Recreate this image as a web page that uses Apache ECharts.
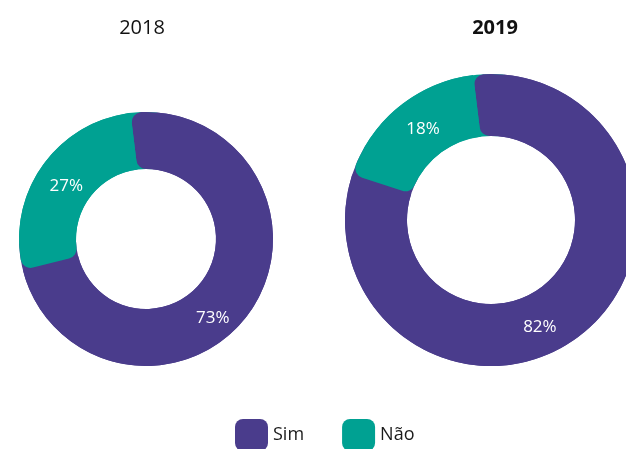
<!DOCTYPE html>
<html>
<head>
<meta charset="utf-8">
<script src="https://cdn.jsdelivr.net/npm/echarts@6/dist/echarts.min.js"></script>
<style>
  html, body { margin: 0; padding: 0; background: #fff; }
  #chart { width: 626px; height: 449px; }
</style>
</head>
<body>
<div id="chart"></div>
<script>
// Answer categories and yearly shares (%)
const categories = ['Sim', 'Não'];
const years = ['2018', '2019'];
const values2018 = [73, 27];
const values2019 = [82, 18];

// Label nudges (px) per slice, so the percentages sit where they read best
const labelOffsets2018 = [[-17, 22], [4, 5]];
const labelOffsets2019 = [[-26, 16], [7, 0]];

const colors = ['#4a3c8c', '#00a192'];
const fontFamily = '"Open Sans", "Noto Sans", sans-serif';

const toData = (vals, offsets) => categories.map((c, i) => {
  const d = { name: c, value: vals[i] };
  if (offsets) d.label = { offset: offsets[i] };
  return d;
});

// Each donut is two stacked rings: a base ring turned slightly clockwise fills the
// notches left by the rounded start corners of each slice of the top ring.
function donut(vals, offsets, center, radius) {
  const start = 97;
  const shift = 12;
  return [
    {
      type: 'pie', center, radius, startAngle: start - shift, clockwise: true,
      silent: true, label: { show: false }, labelLine: { show: false },
      data: toData(vals), z: 1
    },
    {
      type: 'pie', center, radius, startAngle: start, clockwise: true,
      itemStyle: { borderRadius: [10, 0, 10, 0] },
      label: {
        show: true, position: 'inside', color: '#fff',
        fontFamily, fontSize: 17, formatter: '{c}%'
      },
      labelLine: { show: false },
      data: toData(vals, offsets), z: 2
    }
  ];
}

const chart = echarts.init(document.getElementById('chart'), null, { renderer: 'canvas' });
chart.setOption({
  animation: false,
  color: colors,
  title: [
    { text: years[0], left: 137, top: 13, textAlign: 'center',
      textStyle: { fontFamily, fontSize: 20, fontWeight: 'normal', color: '#111' } },
    { text: years[1], left: 490, top: 13, textAlign: 'center',
      textStyle: { fontFamily, fontSize: 20, fontWeight: 'bold', color: '#111' } }
  ],
  legend: {
    data: categories, left: 230, top: 414, itemWidth: 33, itemHeight: 32,
    itemGap: 38, icon: 'roundRect', selectedMode: false,
    textStyle: { fontFamily, fontSize: 18, color: '#1a1a1a' }
  },
  series: [
    ...donut(values2018, labelOffsets2018, [146, 239], [70, 127]),
    ...donut(values2019, labelOffsets2019, [491, 220], [84, 146])
  ]
});
</script>
</body>
</html>
